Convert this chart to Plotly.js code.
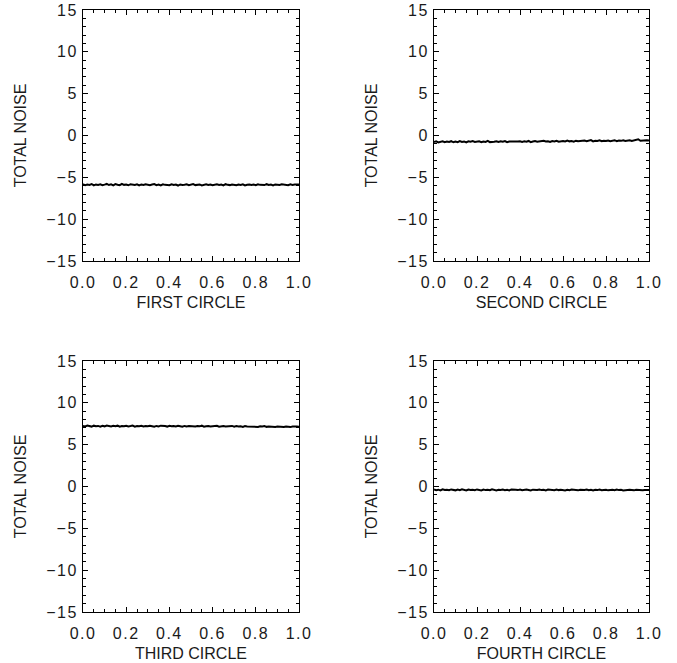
<!DOCTYPE html>
<html>
<head>
<meta charset="utf-8">
<script src="https://cdn.plot.ly/plotly-3.0.1.min.js"></script>
<style>
html,body{margin:0;padding:0;background:#fff;}
#chart{width:677px;height:663px;}
#chart .xaxislayer-above text, #chart .yaxislayer-above text{letter-spacing:1.5px;}
</style>
</head>
<body>
<div id="chart"></div>
<script>
// ---- DATA ----
var xValues = [0.00,0.01,0.02,0.03,0.04,0.05,0.06,0.07,0.08,0.09,
  0.10,0.11,0.12,0.13,0.14,0.15,0.16,0.17,0.18,0.19,
  0.20,0.21,0.22,0.23,0.24,0.25,0.26,0.27,0.28,0.29,
  0.30,0.31,0.32,0.33,0.34,0.35,0.36,0.37,0.38,0.39,
  0.40,0.41,0.42,0.43,0.44,0.45,0.46,0.47,0.48,0.49,
  0.50,0.51,0.52,0.53,0.54,0.55,0.56,0.57,0.58,0.59,
  0.60,0.61,0.62,0.63,0.64,0.65,0.66,0.67,0.68,0.69,
  0.70,0.71,0.72,0.73,0.74,0.75,0.76,0.77,0.78,0.79,
  0.80,0.81,0.82,0.83,0.84,0.85,0.86,0.87,0.88,0.89,
  0.90,0.91,0.92,0.93,0.94,0.95,0.96,0.97,0.98,0.99,1.00];

var firstCircle = [-5.82,-5.95,-5.86,-5.91,-5.80,-5.97,-5.85,-5.90,-5.83,-5.94,
  -5.87,-5.79,-5.92,-5.84,-5.96,-5.81,-5.89,-5.93,-5.78,-5.90,
  -5.86,-5.95,-5.82,-5.88,-5.92,-5.84,-5.97,-5.85,-5.91,-5.83,
  -5.89,-5.94,-5.86,-5.80,-5.93,-5.87,-5.96,-5.84,-5.90,-5.88,
  -5.95,-5.83,-5.91,-5.86,-5.98,-5.85,-5.92,-5.89,-5.84,-5.94,
  -5.87,-5.81,-5.93,-5.90,-5.85,-5.97,-5.88,-5.83,-5.92,-5.86,
  -5.95,-5.89,-5.84,-5.91,-5.87,-5.96,-5.82,-5.90,-5.93,-5.85,
  -5.88,-5.94,-5.86,-5.91,-5.83,-5.97,-5.89,-5.85,-5.92,-5.87,
  -5.95,-5.84,-5.90,-5.88,-5.93,-5.82,-5.91,-5.86,-5.96,-5.85,
  -5.89,-5.92,-5.84,-5.90,-5.87,-5.94,-5.83,-5.91,-5.86,-5.88,-5.85];

var secondCircle = [-0.78,-0.70,-0.82,-0.74,-0.69,-0.80,-0.73,-0.77,-0.68,-0.81,
  -0.72,-0.79,-0.66,-0.76,-0.71,-0.83,-0.70,-0.75,-0.67,-0.78,
  -0.73,-0.69,-0.80,-0.71,-0.76,-0.65,-0.79,-0.72,-0.74,-0.68,
  -0.77,-0.70,-0.75,-0.66,-0.80,-0.71,-0.73,-0.69,-0.78,-0.72,
  -0.68,-0.76,-0.70,-0.74,-0.65,-0.79,-0.71,-0.67,-0.75,-0.70,
  -0.73,-0.64,-0.72,-0.68,-0.77,-0.66,-0.71,-0.63,-0.74,-0.69,
  -0.65,-0.72,-0.61,-0.70,-0.67,-0.74,-0.62,-0.69,-0.66,-0.71,
  -0.60,-0.68,-0.64,-0.55,-0.70,-0.63,-0.66,-0.58,-0.69,-0.62,
  -0.65,-0.59,-0.67,-0.61,-0.56,-0.68,-0.60,-0.64,-0.57,-0.66,
  -0.61,-0.58,-0.66,-0.60,-0.54,-0.45,-0.63,-0.59,-0.62,-0.57,-0.60];

var thirdCircle = [7.25,7.18,7.28,7.21,7.16,7.27,7.20,7.24,7.15,7.26,
  7.19,7.29,7.22,7.17,7.25,7.20,7.27,7.14,7.23,7.19,
  7.26,7.18,7.22,7.28,7.16,7.24,7.20,7.25,7.17,7.23,
  7.19,7.26,7.21,7.15,7.24,7.18,7.27,7.20,7.22,7.16,
  7.25,7.19,7.23,7.17,7.26,7.21,7.14,7.24,7.18,7.22,
  7.20,7.25,7.16,7.23,7.19,7.27,7.15,7.21,7.24,7.17,
  7.22,7.18,7.25,7.14,7.20,7.23,7.16,7.21,7.19,7.24,
  7.15,7.22,7.17,7.20,7.13,7.23,7.18,7.16,7.21,7.14,
  7.19,7.12,7.20,7.16,7.22,7.13,7.18,7.15,7.21,7.11,
  7.17,7.14,7.19,7.12,7.18,7.15,7.10,7.17,7.13,7.16,7.14];

var fourthCircle = [-0.36,-0.44,-0.38,-0.47,-0.33,-0.42,-0.39,-0.45,-0.35,-0.41,
  -0.46,-0.37,-0.43,-0.34,-0.40,-0.48,-0.36,-0.42,-0.38,-0.44,
  -0.35,-0.41,-0.47,-0.37,-0.43,-0.39,-0.45,-0.34,-0.40,-0.46,
  -0.38,-0.42,-0.36,-0.44,-0.40,-0.47,-0.35,-0.41,-0.39,-0.43,
  -0.37,-0.45,-0.40,-0.36,-0.42,-0.48,-0.38,-0.44,-0.41,-0.35,
  -0.43,-0.39,-0.46,-0.37,-0.42,-0.40,-0.45,-0.36,-0.43,-0.38,
  -0.41,-0.47,-0.39,-0.44,-0.36,-0.42,-0.40,-0.46,-0.38,-0.43,
  -0.41,-0.37,-0.45,-0.40,-0.48,-0.39,-0.43,-0.36,-0.44,-0.41,
  -0.38,-0.46,-0.42,-0.39,-0.45,-0.37,-0.43,-0.40,-0.47,-0.41,
  -0.44,-0.38,-0.42,-0.46,-0.39,-0.43,-0.40,-0.45,-0.41,-0.44,-0.42];

var xTitles = ["FIRST CIRCLE", "SECOND CIRCLE", "THIRD CIRCLE", "FOURTH CIRCLE"];
var yTitle = "TOTAL NOISE";
var series = [firstCircle, secondCircle, thirdCircle, fourthCircle];

// ---- LAYOUT ----
var W = 677, H = 663;
var fontFam = "Liberation Sans, Arial, Helvetica, sans-serif";
var txtCol = "#1a1a1a";
var colX = [[83, 299], [434, 649]];
var rowY = [[10, 261], [361, 612]];

function xd(p){ return [p[0]/W, p[1]/W]; }
function yd(p){ return [1 - p[1]/H, 1 - p[0]/H]; }

var traces = [];
var layout = {
  width: W, height: H,
  margin: {l:0, r:0, t:0, b:0},
  paper_bgcolor: "#fff", plot_bgcolor: "#fff",
  showlegend: false,
  font: {family: fontFam, size: 16, color: txtCol}
};

for (var i = 0; i < 4; i++) {
  var n = i + 1;
  var sfx = (n === 1 ? "" : String(n));
  var c = i % 2, r = Math.floor(i / 2);
  traces.push({
    x: xValues, y: series[i], type: "scatter", mode: "lines",
    xaxis: "x" + sfx, yaxis: "y" + sfx,
    line: {color: "#000", width: 2}, hoverinfo: "skip"
  });
  layout["xaxis" + sfx] = {
    domain: xd(colX[c]), anchor: "y" + sfx,
    range: [0, 1], dtick: 0.2, tick0: 0, tickformat: ".1f",
    ticks: "inside", ticklen: 5, tickwidth: 1, tickcolor: "#000",
    minor: {dtick: 0.05, ticks: "inside", ticklen: 3, tickwidth: 1, tickcolor: "#000"},
    showline: true, linecolor: "#000", linewidth: 1, mirror: "ticks",
    showgrid: false, zeroline: false, fixedrange: true,
    ticklabelstandoff: 7,
    tickfont: {family: fontFam, size: 16, color: txtCol},
    title: {text: xTitles[i], font: {family: fontFam, size: 16, color: txtCol}, standoff: 6}
  };
  layout["yaxis" + sfx] = {
    domain: yd(rowY[r]), anchor: "x" + sfx,
    range: [-15, 15], dtick: 5, tick0: 0,
    ticks: "inside", ticklen: 5, tickwidth: 1, tickcolor: "#000",
    minor: {dtick: 1, ticks: "inside", ticklen: 3, tickwidth: 1, tickcolor: "#000"},
    showline: true, linecolor: "#000", linewidth: 1, mirror: "ticks",
    showgrid: false, zeroline: false, fixedrange: true,
    ticklabelstandoff: 1,
    tickfont: {family: fontFam, size: 16, color: txtCol},
    title: {text: yTitle, font: {family: fontFam, size: 16, color: txtCol}, standoff: 20}
  };
}

Plotly.newPlot("chart", traces, layout, {staticPlot: true, displayModeBar: false});
</script>
</body>
</html>
